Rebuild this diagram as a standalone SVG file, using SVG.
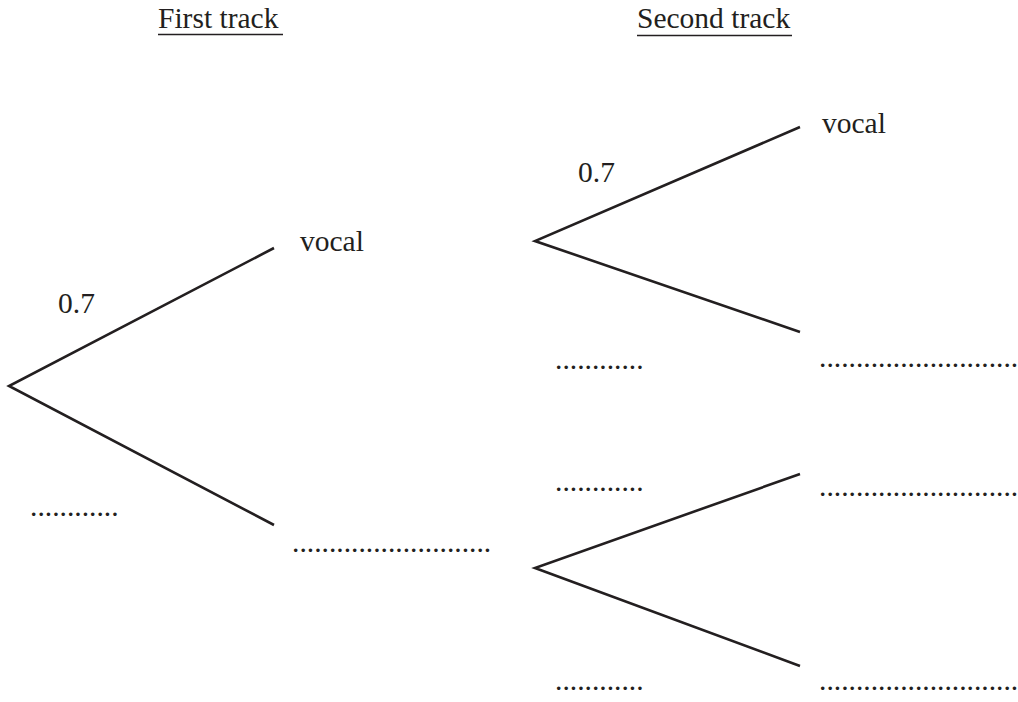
<svg xmlns="http://www.w3.org/2000/svg" width="1018" height="702" viewBox="0 0 1018 702">
  <style>
    .t { font-family: "Liberation Serif", "Times New Roman", serif; font-size: 29.5px; fill: #231f20; }
    .br { stroke: #231f20; stroke-width: 2.6; fill: none; stroke-linecap: butt; stroke-linejoin: miter; }
    .ul { stroke: #231f20; stroke-width: 1.4; }
  </style>
  <rect width="1018" height="702" fill="#ffffff"/>

  <!-- column headings -->
  <g id="heading-first">
    <text class="t" x="158" y="28">First track</text>
    <line class="ul" x1="158" y1="34.5" x2="283" y2="34.5"/>
  </g>
  <g id="heading-second">
    <text class="t" x="637" y="28">Second track</text>
    <line class="ul" x1="637" y1="35.5" x2="792" y2="35.5"/>
  </g>

  <!-- branches of the tree -->
  <g id="connectors">
    <polyline class="br" points="274,248 9,386 274,525"/>
    <polyline class="br" points="800,127 535,241 800,332"/>
    <polyline class="br" points="800,474 535,568 800,666"/>
  </g>

  <!-- first track outcomes -->
  <g id="node-first-vocal">
    <text class="t" x="300" y="251">vocal</text>
  </g>
  <g id="label-first-p">
    <text class="t" x="58" y="313">0.7</text>
  </g>
  <g id="label-first-q">
    <text class="t" x="30" y="516">............</text>
  </g>
  <g id="node-first-other">
    <text class="t" x="292" y="552">...........................</text>
  </g>

  <!-- second track, after vocal -->
  <g id="label-second-a-p">
    <text class="t" x="578" y="182">0.7</text>
  </g>
  <g id="node-second-a-vocal">
    <text class="t" x="822" y="133">vocal</text>
  </g>
  <g id="label-second-a-q">
    <text class="t" x="555" y="369">............</text>
  </g>
  <g id="node-second-a-other">
    <text class="t" x="819" y="367">...........................</text>
  </g>

  <!-- second track, after the other outcome -->
  <g id="label-second-b-p">
    <text class="t" x="555" y="491">............</text>
  </g>
  <g id="node-second-b-upper">
    <text class="t" x="819" y="496">...........................</text>
  </g>
  <g id="label-second-b-q">
    <text class="t" x="555" y="690">............</text>
  </g>
  <g id="node-second-b-lower">
    <text class="t" x="819" y="690">...........................</text>
  </g>
</svg>
